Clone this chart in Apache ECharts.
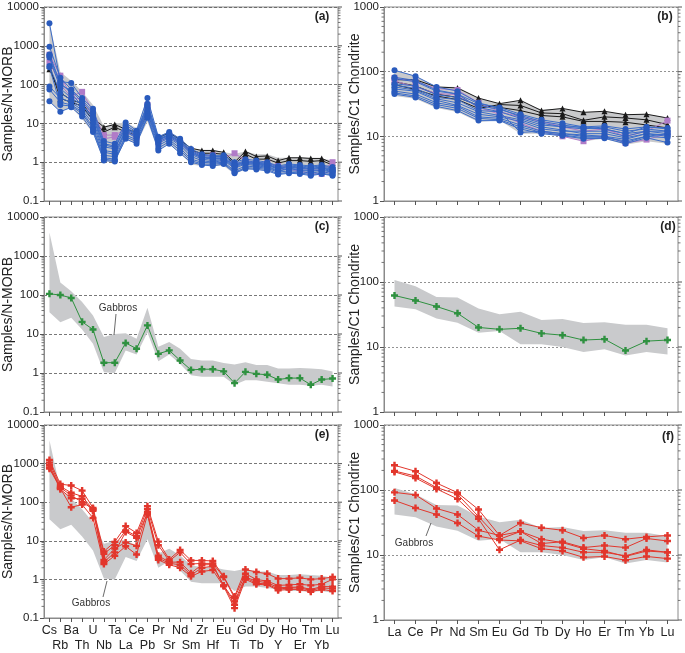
<!DOCTYPE html>
<html><head><meta charset="utf-8">
<script src="https://cdn.jsdelivr.net/npm/echarts@6/dist/echarts.min.js"></script>
<style>html,body{margin:0;padding:0;background:#fff}#c{width:685px;height:653px}</style>
</head><body><div id="c"></div>
<script>
// ---------- categories ----------
const nmorbCats = ['Cs','Rb','Ba','Th','U','Nb','Ta','La','Ce','Pb','Pr','Sr','Nd','Sm','Zr','Hf','Eu','Ti','Gd','Tb','Dy','Y','Ho','Er','Tm','Yb','Lu'];
const chondCats = ['La','Ce','Pr','Nd','Sm','Eu','Gd','Tb','Dy','Ho','Er','Tm','Yb','Lu'];
const nmorbTicks = [0.1, 1, 10, 100, 1000, 10000];
const chondTicks = [1, 10, 100, 1000];

// ---------- gabbro envelopes ----------
const nmorbEnvMax = [4000,210,125,66,30,8.4,10,10.5,7.6,47,4.7,6.2,4.2,2.3,2.1,2.1,1.8,1.65,1.9,1.6,1.6,1.3,1.3,1.35,1.3,1.25,1.1];
const nmorbEnvMin = [36,20,26,13,5.6,1.05,1.0,3.8,3.0,11,2.0,3.0,1.7,0.87,0.8,0.8,0.8,0.5,0.65,0.65,0.6,0.55,0.5,0.5,0.47,0.5,0.45];
const chondEnvMax = [107,86,59,58,39,32,35,26,27,23.5,24,22,22,19.4];
const chondEnvMin = [42,38,27.5,23.7,16.6,17.7,11,11,10,8.4,9.2,7.4,8.4,7.7];

// ---------- panel (a): gabbros N-MORB normalised ----------
const aBlue1 = [3800,120,110,45,24,3.5,3,10.5,6.5,45,4.5,6,4,2.2,1.6,1.5,1.5,1.0,1.2,1.1,1.0,0.8,0.9,0.85,0.8,0.85,0.75];
const aBlue2 = [950,150,75,40,20,3.0,2.6,9,6,32,4.2,5.5,3.7,2.0,1.5,1.4,1.4,0.9,1.1,1.0,0.95,0.75,0.85,0.8,0.75,0.8,0.7];
const aBlue3 = [550,100,70,35,18,2.5,2.2,8,5.5,28,4,5,3.5,1.9,1.4,1.3,1.3,0.85,1.05,0.95,0.9,0.7,0.8,0.75,0.7,0.75,0.65];
const aBlue4 = [500,80,45,30,15,2.0,1.8,7,5,25,3.7,4.8,3.2,1.7,1.3,1.2,1.2,0.8,1.0,0.9,0.85,0.65,0.75,0.7,0.65,0.7,0.6];
const aBlue5 = [300,60,40,25,12,1.8,1.6,6.5,4.5,22,3.4,4.5,3.0,1.6,1.2,1.1,1.15,0.75,0.95,0.85,0.8,0.6,0.7,0.65,0.6,0.65,0.58];
const aBlue6 = [90,45,35,22,10,1.5,1.4,6,4.2,20,3.1,4.2,2.7,1.4,1.1,1.0,1.1,0.7,0.9,0.8,0.75,0.58,0.68,0.62,0.58,0.62,0.55];
const aBlue7 = [75,35,30,20,8,1.3,1.2,5,3.8,17,2.7,3.8,2.3,1.2,1.0,0.95,1.0,0.6,0.8,0.75,0.7,0.55,0.6,0.58,0.52,0.58,0.5];
const aBlue8 = [37,20,26,15,6,1.1,1.05,4,3,14,2.0,3.0,1.7,1.0,0.85,0.8,0.9,0.52,0.68,0.65,0.6,0.48,0.52,0.5,0.45,0.5,0.45];
const aBlue9 = [280,30,28,18,7,1.2,1.1,4.5,3.4,15,2.3,3.4,2.0,1.1,0.9,0.88,0.95,0.55,0.72,0.7,0.65,0.5,0.55,0.53,0.48,0.52,0.47];
const aBlue10 = [600,110,60,28,14,2.8,2.4,7.5,5.2,30,3.8,5.2,3.4,1.8,1.35,1.25,1.25,0.82,1.0,0.92,0.88,0.68,0.78,0.72,0.68,0.72,0.62];
const aPink1 = [590,170,50,65,20,5,5,7,5,30,3.7,5,3.3,2,1.5,1.5,1.3,1.7,1.1,1.0,0.95,0.8,0.75,0.7,0.65,0.6,1.0];
const aPink2 = [380,100,48,40,15,4,4.5,6,4.5,22,3.3,4.5,3.0,1.8,1.3,1.3,1.2,0.9,1.0,0.9,0.85,0.7,0.65,0.6,0.5,0.5,0.6];
const aBlack1 = [250,62,40,33,14,8,9.4,7,6,20,4.2,5.8,3.7,2.3,2.0,2.0,1.8,1.0,1.9,1.4,1.45,1.1,1.3,1.3,1.25,1.25,0.95];
const aBlack2 = [300,44,35,28,12,6,8,6,5,18,3.8,5,3.3,2.0,1.7,1.7,1.6,0.9,1.6,1.2,1.2,0.95,1.1,1.1,1.05,1.1,0.85];

// ---------- panel (b): gabbros chondrite normalised ----------
const bBlue1 = [105,85,58,50,33,27,20,16,14,13,14,12,13,12];
const bBlue2 = [82,73,52,45,28,24,19,15,14,14,13,11,14,13];
const bBlue3 = [62,55,40,37,25,24,11.5,12,11,10,10,8,10,11];
const bBlue4 = [58,52,38,33,24,21,18,14,12.5,11,11,9.5,11,10];
const bBlue5 = [54,50,36,30,22,20,17,13,12,12,12,10,12,11];
const bBlue6 = [50,45,33,29,20,19,15,12,11,10.5,10,9,11,10.5];
const bBlue7 = [47,42,31,27,19,18,14,11.5,10.5,9.5,9.5,8.5,10,9.5];
const bBlue8 = [45,40,29,25,17.5,17.5,13,11,10.2,9.2,9.3,7.7,9.5,8];
const bBlue9 = [65,60,44,40,30,26,21,17,15,13.5,13,11,12,12];
const bBlue10 = [78,70,50,45,32,28,22,18,16,14,14.5,13,14,13.5];
const bPink1 = [80,70,55,52,33,24,20,17,14,12,13,10,12,17.5];
const bPink2 = [72,58,46,44,28,22,16,12,10,8.4,10,7.9,8.9,11];
const bBlack1 = [75,75,58,56,39,32,36,25,27,23.5,24.4,21.6,22,19.2];
const bBlack2 = [63,53,42,37,27,31,30,23,22.4,17.7,20,19.2,18,15.2];
const bBlack3 = [70,60,45,40,30,28,25,21,20,17,17,16.5,15,13.5];

// ---------- panels (c), (d): green sample ----------
const cGreen = [107,100,84,20.5,13,1.84,1.84,5.9,4.2,16.6,3.1,3.8,2.1,1.2,1.25,1.25,1.1,0.55,1.07,0.95,0.9,0.68,0.74,0.74,0.5,0.68,0.72];
const dGreen = [62,52,42,33,20,18.7,19.4,16.2,15.2,12.8,13.2,8.8,12.3,12.8];

// ---------- panels (e), (f): red samples ----------
const eRed1 = [1240,295,270,200,71,5.3,9.4,24,16,79,9.5,3.3,5.8,3.1,3.1,3.0,1.2,0.36,1.8,1.55,1.4,1.05,1.05,1.1,1.0,1.05,1.15];
const eRed2 = [1060,258,175,142,64,4.6,7.7,18.6,13.2,67,7.7,3.0,5.0,2.5,2.6,2.6,1.15,0.33,1.4,1.0,0.9,0.7,0.72,0.75,0.7,0.75,1.0];
const eRed3 = [906,218,126,122,60,3.2,6.3,9.1,7.4,57,4.1,2.8,2.8,1.45,2.4,2.4,0.7,0.27,1.15,0.9,0.82,0.62,0.62,0.64,0.55,0.65,0.65];
const eRed4 = [740,230,74,87,39,2.5,4.1,7.2,4.4,48,3.2,2.4,2.0,1.2,1.6,1.75,0.66,0.18,1.0,0.75,0.72,0.52,0.55,0.55,0.48,0.55,0.5];
const eRed5 = [800,240,150,100,67,2.8,5,17,12,52,3.6,2.6,2.4,1.3,2.0,2.2,0.7,0.22,1.1,0.8,0.76,0.56,0.6,0.6,0.52,0.6,0.58];
const fRed1 = [240,194,128,91,50,20,31,26.3,24,18.3,20,17.5,19,20];
const fRed2 = [196,164,109,86,39,17.5,23,15,16,13,14,13,18,16.4];
const fRed3 = [190,153,104,73,36,12,17,14,13,11,11,9.7,12,11];
const fRed4 = [92,84,52,42,24,20,23,17.5,15.5,12.5,11.5,9.5,11.5,11];
const fRed5 = [69,53,42,31,19.5,17,16.5,12.5,11.5,9.2,9.5,8.3,9.5,8.8];

// ---------- styles ----------
const FONT = 'Liberation Sans, Arial, sans-serif';
const TXT = '#222';
const AX = '#8a8a8a';
const BLUE = '#2a5bbd', BLUE_L = '#3b6cc8';
const PINK = '#b07bc8', BLACK = '#1a1a1a', GREEN = '#2f9140', RED = '#e2362c';
const ENV = '#c9cacc';
const PLUS = 'path://M-1.1,-3.2H1.1V-1.1H3.2V1.1H1.1V3.2H-1.1V1.1H-3.2V-1.1H-1.1Z';

const grids = [
  {left:43, top:7, width:295, height:194},
  {left:384, top:7, width:294, height:194},
  {left:43, top:217, width:295, height:195},
  {left:384, top:217, width:294, height:195},
  {left:43, top:425, width:295, height:195},
  {left:384, top:425, width:294, height:195}
];
const isN = [true,false,true,false,true,false];

const xAxes = grids.map((g,i)=>({
  type:'category', gridIndex:i, data: isN[i]?nmorbCats:chondCats, boundaryGap:true,
  axisLine:{show:true, lineStyle:{color:AX, width:1}},
  axisTick:{show:true, alignWithLabel:true, inside:false, length:4, interval:0, lineStyle:{color:'#555'}},
  axisLabel:{show: i>=4, interval:0, fontFamily:FONT, fontSize:12.5, color:TXT, margin:5, lineHeight:15, verticalAlign:'top',
    formatter:(v,idx)=> (isN[i] && idx%2===1) ? '\n'+v : v},
  splitLine:{show:false}
}));
const yAxes = grids.map((g,i)=>({
  type:'log', gridIndex:i, logBase:10,
  min: isN[i]?0.1:1, max: isN[i]?10000:1000, splitNumber: isN[i]?5:3,
  name: isN[i]?'Samples/N-MORB':'Samples/C1 Chondrite', nameLocation:'middle', nameRotate:90,
  nameMoveOverlap:false,
  nameGap: isN[i]?29:22, nameTextStyle:{fontFamily:FONT, fontSize:14, color:TXT},
  axisLine:{show:true, lineStyle:{color:AX, width:1}},
  axisTick:{show:true, inside:false, length:4, lineStyle:{color:'#555'}},
  axisLabel:{fontFamily:FONT, fontSize:11.5, color:TXT, margin:5,
    formatter:v=>{const t=(isN[i]?nmorbTicks:chondTicks); let best=t[0]; t.forEach(x=>{if(Math.abs(Math.log10(x)-Math.log10(v))<Math.abs(Math.log10(best)-Math.log10(v)))best=x;}); return String(best);}},
  splitLine:{show:true, lineStyle:{color: isN[i]?'#555':'#777', type: isN[i]?[3,2]:[2,2], width:0.8}}
}));

function envSeries(gi, maxArr, minArr){
  return {type:'custom', xAxisIndex:gi, yAxisIndex:gi, silent:true, z:1, clip:false,
    data:[[0,1]], encode:{x:0,y:1},
    renderItem:(params, api)=>{
      const pts=[];
      for(let k=0;k<maxArr.length;k++) pts.push(api.coord([k, maxArr[k]]));
      for(let k=minArr.length-1;k>=0;k--) pts.push(api.coord([k, minArr[k]]));
      return {type:'polygon', shape:{points:pts}, style:{fill:ENV, stroke:null}};
    }};
}
function tickSeries(gi, lo, hi){
  const vals=[];
  for(let e=lo;e<hi;e++){ for(let k=1;k<=9;k++){ vals.push([0, k*Math.pow(10,e)]); } }
  vals.push([0, Math.pow(10,hi)]);
  return {type:'custom', xAxisIndex:gi, yAxisIndex:gi, silent:true, z:5, clip:false,
    data: vals, encode:{x:0,y:1},
    renderItem:(params, api)=>{
      const cs=params.coordSys; const v=api.value(1);
      const y=api.coord([0,v])[1];
      const major = Math.abs(Math.log10(v)-Math.round(Math.log10(v)))<1e-6;
      const len = major?4:2.5;
      const children=[];
      if(!major) children.push({type:'line', shape:{x1:cs.x-len,y1:y,x2:cs.x,y2:y}, style:{stroke:'#555',lineWidth:0.8}});
      children.push({type:'line', shape:{x1:cs.x+cs.width,y1:y,x2:cs.x+cs.width+len,y2:y}, style:{stroke:'#555',lineWidth:major?1:0.8}});
      return {type:'group', children};
    }};
}
function lineSeries(gi, data, color, lineColor, symbol, size, z){
  return {type:'line', xAxisIndex:gi, yAxisIndex:gi, data, symbol, symbolSize:size, showSymbol:true, showAllSymbol:true,
    z: z||3, animation:false, silent:true,
    itemStyle:{color, borderWidth:0}, lineStyle:{color:lineColor||color, width:1}};
}

const series = [];
series.push(envSeries(0,nmorbEnvMax,nmorbEnvMin), envSeries(1,chondEnvMax,chondEnvMin),
  envSeries(2,nmorbEnvMax,nmorbEnvMin), envSeries(3,chondEnvMax,chondEnvMin),
  envSeries(4,nmorbEnvMax,nmorbEnvMin), envSeries(5,chondEnvMax,chondEnvMin));
[0,2,4].forEach(g=>series.push(tickSeries(g,-1,4)));
[1,3,5].forEach(g=>series.push(tickSeries(g,0,3)));
// (a)
[aBlack1,aBlack2].forEach(d=>series.push(lineSeries(0,d,BLACK,BLACK,'triangle',6,3)));
[aPink1,aPink2].forEach(d=>series.push(lineSeries(0,d,PINK,PINK,'rect',6,3)));
[aBlue1,aBlue2,aBlue3,aBlue4,aBlue5,aBlue6,aBlue7,aBlue8,aBlue9,aBlue10].forEach(d=>series.push(lineSeries(0,d,BLUE,BLUE_L,'circle',6,4)));
// (b)
[bBlack1,bBlack2,bBlack3].forEach(d=>series.push(lineSeries(1,d,BLACK,BLACK,'triangle',6,3)));
[bPink1,bPink2].forEach(d=>series.push(lineSeries(1,d,PINK,PINK,'rect',6,3)));
[bBlue1,bBlue2,bBlue3,bBlue4,bBlue5,bBlue6,bBlue7,bBlue8,bBlue9,bBlue10].forEach(d=>series.push(lineSeries(1,d,BLUE,BLUE_L,'circle',6,4)));
// (c),(d)
series.push(lineSeries(2,cGreen,GREEN,GREEN,PLUS,7,3));
series.push(lineSeries(3,dGreen,GREEN,GREEN,PLUS,7,3));
// (e),(f)
[eRed1,eRed2,eRed3,eRed4,eRed5].forEach(d=>series.push(lineSeries(4,d,RED,RED,PLUS,7,3)));
[fRed1,fRed2,fRed3,fRed4,fRed5].forEach(d=>series.push(lineSeries(5,d,RED,RED,PLUS,7,3)));

const panelLabels = [['(a)',322,17],['(b)',665,17],['(c)',322,227],['(d)',668,227],['(e)',322,435],['(f)',668,437]];
const graphic = panelLabels.map(p=>({type:'text', x:p[1], y:p[2], z:10,
  style:{text:p[0], font:'bold 12px '+FONT, fill:TXT, textAlign:'center', textVerticalAlign:'middle'}}));
const gab = {font:'10px '+FONT, fill:'#333', textAlign:'center', textVerticalAlign:'middle'};
graphic.push({type:'text', x:118, y:308, z:10, style:Object.assign({text:'Gabbros'},gab)});
graphic.push({type:'line', z:10, shape:{x1:116,y1:314,x2:114,y2:335}, style:{stroke:'#444',lineWidth:0.8}});
graphic.push({type:'text', x:91, y:603, z:10, style:Object.assign({text:'Gabbros'},gab)});
graphic.push({type:'line', z:10, shape:{x1:103,y1:597,x2:107,y2:581}, style:{stroke:'#444',lineWidth:0.8}});
graphic.push({type:'text', x:414, y:543, z:10, style:Object.assign({text:'Gabbros'},gab)});
graphic.push({type:'line', z:10, shape:{x1:426,y1:536,x2:431,y2:523}, style:{stroke:'#444',lineWidth:0.8}});

const chart = echarts.init(document.getElementById('c'), null, {renderer:'canvas'});
chart.setOption({
  animation:false,
  backgroundColor:'#fff',
  grid: grids.map(g=>Object.assign({show:true, borderColor:AX, borderWidth:1, backgroundColor:'transparent', containLabel:false}, g)),
  xAxis: xAxes, yAxis: yAxes, series, graphic
});
</script></body></html>
